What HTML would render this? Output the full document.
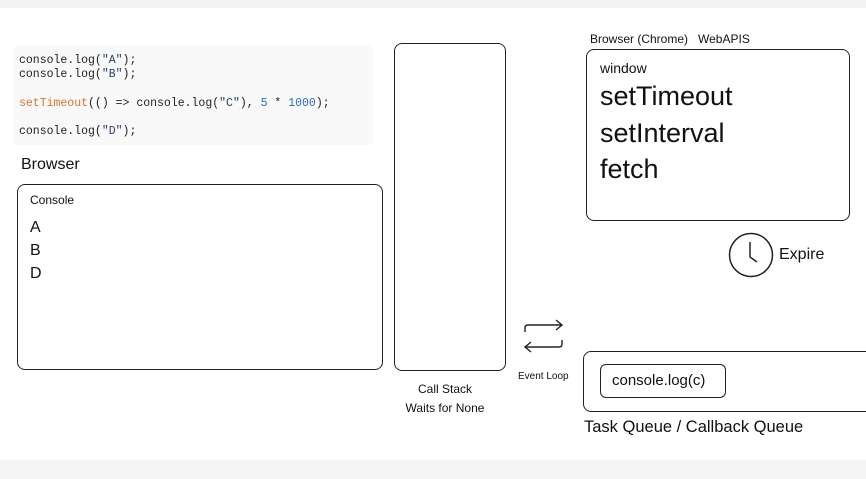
<!DOCTYPE html>
<html><head><meta charset="utf-8"><style>
body{margin:0;width:866px;height:479px;background:#fff;position:relative;overflow:hidden;font-family:"Liberation Sans",sans-serif;color:#111}
.a{position:absolute}
.box{position:absolute;border:1.5px solid #222;border-radius:8px;box-sizing:border-box}
pre{margin:0;font-family:"Liberation Mono",monospace;font-size:11.5px;line-height:14.3px;color:#222}
.o{color:#d8742c}.b{color:#2a6bc4}.s{color:#27406b}
</style></head><body>
<div class="a" style="left:0;top:0;width:866px;height:8px;background:#f3f3f3"></div>
<div class="a" style="left:0;top:460px;width:866px;height:19px;background:#f5f5f5"></div>
<div class="a" style="left:13px;top:45px;width:360px;height:100px;background:#f9f9f9;border-radius:6px"></div>
<pre class="a" style="left:19px;top:54px">console.log(<span class="s">"A"</span>);
console.log(<span class="s">"B"</span>);

<span class="o">setTimeout</span>(() => console.log(<span class="s">"C"</span>), <span class="b">5</span> * <span class="b">1000</span>);

console.log(<span class="s">"D"</span>);</pre>
<div class="a" style="left:21px;top:156px;font-size:16px">Browser</div>
<div class="box" style="left:17px;top:184px;width:366px;height:186px"></div>
<div class="a" style="left:30px;top:193px;font-size:12px">Console</div>
<div class="a" style="left:30px;top:216px;font-size:16px;line-height:23px">A<br>B<br>D</div>
<div class="box" style="left:394px;top:43px;width:112px;height:328px"></div>
<div class="a" style="left:394px;top:380px;width:102px;text-align:center;font-size:12px;line-height:19px">Call Stack<br>Waits for None</div>
<div class="a" style="left:590px;top:32px;font-size:12px">Browser (Chrome)&nbsp;&nbsp; WebAPIS</div>
<div class="box" style="left:586px;top:49px;width:264px;height:172px"></div>
<div class="a" style="left:600px;top:60px;font-size:14px">window</div>
<div class="a" style="left:600px;top:78px;font-size:27px;line-height:36.5px">setTimeout<br>setInterval<br>fetch</div>
<svg class="a" style="left:728px;top:232px" width="48" height="48"><circle cx="23" cy="23" r="21.5" fill="none" stroke="#222" stroke-width="1.5"/><path d="M22 10 V25 L29 30" fill="none" stroke="#222" stroke-width="1.5"/></svg>
<div class="a" style="left:779px;top:246px;font-size:16px">Expire</div>
<svg class="a" style="left:520px;top:315px" width="50" height="50"><path d="M5 17 V13 Q5 10 8 10 H41 M36 5 L42 10 L36 15 M42 25 V29 Q42 32 39 32 H6 M11 27 L5 32 L11 37" fill="none" stroke="#222" stroke-width="1.4"/></svg>
<div class="a" style="left:518px;top:371px;font-size:10px">Event Loop</div>
<div class="box" style="left:583px;top:351px;width:300px;height:61px"></div>
<div class="box" style="left:600px;top:364px;width:126px;height:34px;border-radius:6px"></div>
<div class="a" style="left:612px;top:372px;font-size:15px">console.log(c)</div>
<div class="a" style="left:584px;top:418px;font-size:16.5px">Task Queue / Callback Queue</div>
</body></html>
